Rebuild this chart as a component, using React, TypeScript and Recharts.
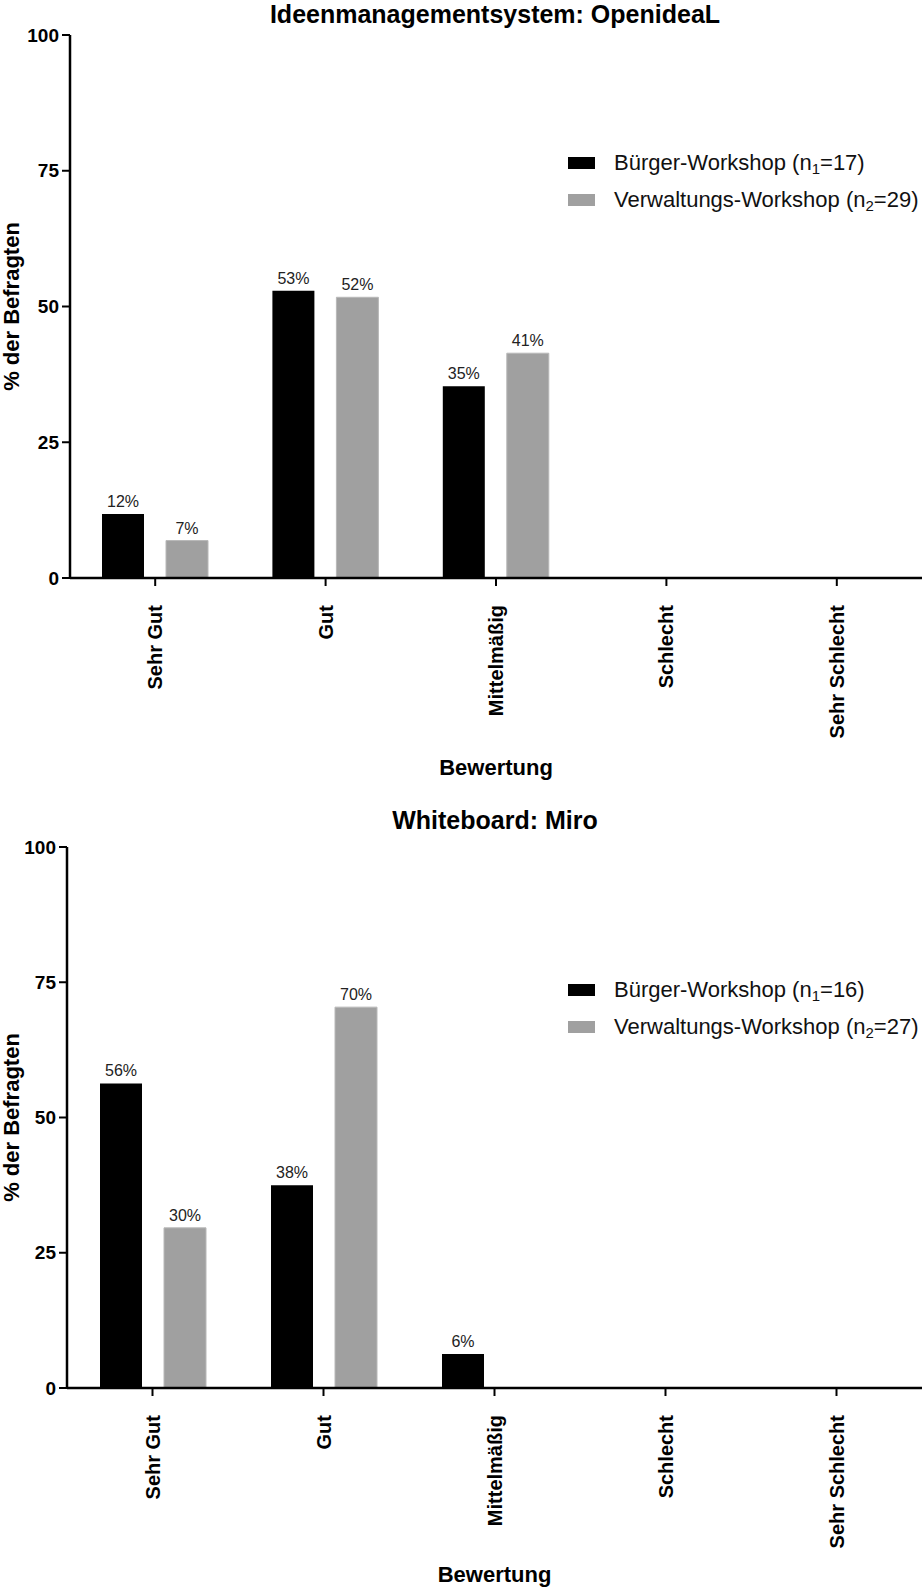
import { BarChart, Bar, XAxis, YAxis, LabelList } from "recharts";

const categories = ["Sehr Gut", "Gut", "Mittelmäßig", "Schlecht", "Sehr Schlecht"];
const seriesNames = ["Bürger-Workshop", "Verwaltungs-Workshop"];
const yTicks = [0, 25, 50, 75, 100];

const ideenTitle = "Ideenmanagementsystem: OpenideaL";
const ideenBuerger = [11.8, 52.9, 35.3, 0, 0];
const ideenVerwaltung = [6.9, 51.7, 41.4, 0, 0];
const ideenN = [17, 29];

const miroTitle = "Whiteboard: Miro";
const miroBuerger = [56.3, 37.5, 6.3, 0, 0];
const miroVerwaltung = [29.6, 70.4, 0, 0, 0];
const miroN = [16, 27];

const FONT = '"Liberation Sans", Arial, sans-serif';
const BLACK = "#000";
const GREY = "#a0a0a0";

function RotatedTick({ x, y, payload }: any) {
  return (
    <text
      x={x}
      y={y}
      transform={`rotate(-90 ${x} ${y})`}
      textAnchor="end"
      dy="0.35em"
      fontSize={20}
      fontWeight="bold"
      fill="#000"
      fontFamily={FONT}
    >
      {payload.value}
    </text>
  );
}

const pct = (v: any) => (Number(v) > 0 ? `${Math.round(Number(v))}%` : "");

type PanelProps = {
  title: string;
  a: number[];
  b: number[];
  n: number[];
  top: number;
  height: number;
  plotTop: number;
  plotBottom: number;
  axisX: number;
  titleTop: number;
  legendRows: number[];
  xLabelBaseline: number;
};

function Panel(p: PanelProps) {
  const data = categories.map((cat, i) => ({ cat, a: p.a[i], b: p.b[i] }));
  const xAxisHeight = p.top + p.height - p.plotBottom;
  return (
    <>
      <div
        style={{
          position: "absolute",
          left: 0,
          width: 990,
          top: p.titleTop,
          fontSize: 25,
          lineHeight: "29px",
          fontWeight: "bold",
          textAlign: "center",
          color: "#000",
          whiteSpace: "nowrap",
        }}
      >
        {p.title}
      </div>
      <div style={{ position: "absolute", left: 0, top: p.top }}>
        <BarChart
          width={922}
          height={p.height}
          data={data}
          margin={{ top: p.plotTop - p.top, right: 0, left: 0, bottom: 0 }}
          barSize={42}
          barGap={22}
        >
          <XAxis
            dataKey="cat"
            interval={0}
            height={xAxisHeight}
            tick={<RotatedTick />}
            tickSize={8}
            tickMargin={19}
            axisLine={{ stroke: "#000", strokeWidth: 2.5 }}
            tickLine={{ stroke: "#000", strokeWidth: 2 }}
            label={{
              value: "Bewertung",
              position: "insideBottom",
              offset: p.top + p.height - p.xLabelBaseline,
              style: { fontSize: 22, fontWeight: "bold", fill: "#000", fontFamily: FONT },
            }}
          />
          <YAxis
            width={p.axisX}
            domain={[0, 100]}
            ticks={yTicks}
            interval={0}
            tickSize={8}
            tickMargin={3}
            tick={{ fill: "#000", fontSize: 19, fontWeight: "bold", fontFamily: FONT }}
            axisLine={{ stroke: "#000", strokeWidth: 2.5 }}
            tickLine={{ stroke: "#000", strokeWidth: 2 }}
            label={{
              value: "% der Befragten",
              angle: -90,
              position: "insideLeft",
              offset: 11,
              style: {
                textAnchor: "middle",
                fontSize: 22,
                fontWeight: "bold",
                fill: "#000",
                fontFamily: FONT,
              },
            }}
          />
          <Bar dataKey="a" name={seriesNames[0]} fill={BLACK} isAnimationActive={false}>
            <LabelList
              dataKey="a"
              position="top"
              offset={7}
              formatter={pct}
              style={{ fontSize: 16, fill: "#222", fontFamily: FONT }}
            />
          </Bar>
          <Bar
            dataKey="b"
            name={seriesNames[1]}
            fill={GREY}
            stroke="#b8b8b8"
            strokeWidth={1}
            isAnimationActive={false}
          >
            <LabelList
              dataKey="b"
              position="top"
              offset={7}
              formatter={pct}
              style={{ fontSize: 16, fill: "#222", fontFamily: FONT }}
            />
          </Bar>
        </BarChart>
      </div>
      {seriesNames.map((name, i) => (
        <div
          key={name}
          style={{
            position: "absolute",
            left: 568,
            top: p.legendRows[i] - 15,
            height: 30,
            display: "flex",
            alignItems: "center",
            fontSize: 22,
            color: "#111",
            whiteSpace: "nowrap",
          }}
        >
          <span
            style={{
              display: "inline-block",
              width: 27,
              height: 12,
              background: i === 0 ? BLACK : GREY,
              marginRight: 19,
            }}
          />
          <span>
            {name} (n
            <sub style={{ fontSize: "0.68em", verticalAlign: "-0.25em" }}>{i + 1}</sub>={p.n[i]})
          </span>
        </div>
      ))}
    </>
  );
}

export default function App() {
  return (
    <div
      style={{
        position: "absolute",
        left: 0,
        top: 0,
        width: 922,
        height: 1589,
        background: "#fff",
        fontFamily: FONT,
        overflow: "hidden",
      }}
    >
      <Panel
        title={ideenTitle}
        a={ideenBuerger}
        b={ideenVerwaltung}
        n={ideenN}
        top={0}
        height={800}
        plotTop={35}
        plotBottom={578}
        axisX={70}
        titleTop={0}
        legendRows={[163, 200]}
        xLabelBaseline={775}
      />
      <Panel
        title={miroTitle}
        a={miroBuerger}
        b={miroVerwaltung}
        n={miroN}
        top={800}
        height={789}
        plotTop={847}
        plotBottom={1388}
        axisX={67}
        titleTop={806}
        legendRows={[990, 1027]}
        xLabelBaseline={1582}
      />
    </div>
  );
}
